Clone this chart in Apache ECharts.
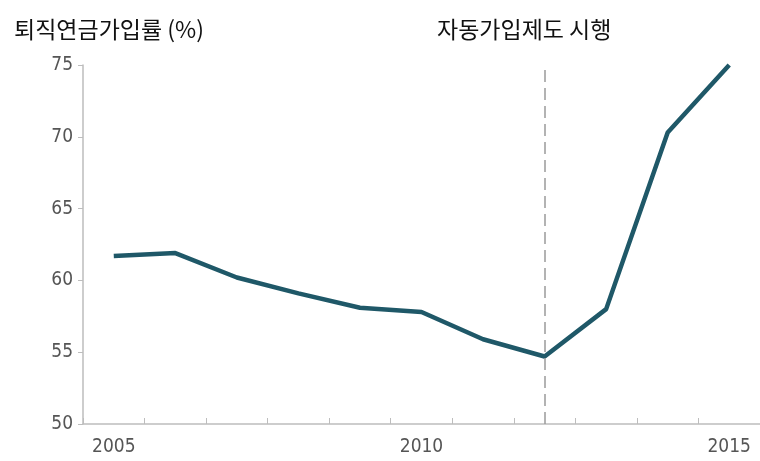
<!DOCTYPE html>
<html>
<head>
<meta charset="utf-8">
<script src="https://cdn.jsdelivr.net/npm/echarts@6/dist/echarts.min.js"></script>
<style>
html, body { margin: 0; padding: 0; background: #fff; }
#main { width: 760px; height: 461px; }
</style>
</head>
<body>
<div id="main"></div>
<script>
var years = ['2005','2006','2007','2008','2009','2010','2011','2012','2013','2014','2015'];//x축
var joinRate = [61.7, 61.9, 60.2, 59.1, 58.1, 57.8, 55.9, 54.7, 58.0, 70.3, 75.0];//퇴직연금가입률
var autoYear = '2012';//자동가입제도 시행
var yTicks = [50, 55, 60, 65, 70, 75];

var numFont = '"Liberation Sans Narrow", "DejaVu Sans Condensed", "Roboto", sans-serif';
var krFont = '"Noto Sans CJK KR", sans-serif';

var myChart = echarts.init(document.getElementById('main'));
var option = {
    backgroundColor: '#fff',
    animation: false,
    title: [
        {
            text: '퇴직연금가입률 (%)',
            left: 9,
            top: 13,
            textStyle: { fontFamily: krFont, fontSize: 23, fontWeight: 'normal', color: '#111' }
        },
        {
            text: '자동가입제도 시행',
            left: 432,
            top: 13,
            textStyle: { fontFamily: krFont, fontSize: 23, fontWeight: 'normal', color: '#111' }
        }
    ],
    grid: {
        left: 83,
        top: 65,
        width: 684,
        height: 359
    },
    xAxis: [
        {
            type: 'category',
            data: years,
            boundaryGap: true,
            axisLine: { lineStyle: { color: '#bdbdbd', width: 1.5 } },
            axisTick: { show: true, interval: 0, length: 6, inside: true, lineStyle: { color: '#bdbdbd' } },
            axisLabel: {
                interval: 4,
                margin: 14,
                color: '#555',
                fontSize: 19,
                fontFamily: numFont
            }
        }
    ],
    yAxis: [
        {
            type: 'value',
            min: yTicks[0],
            max: yTicks[yTicks.length - 1],
            interval: 5,
            splitLine: { show: false },
            axisLine: { show: true, lineStyle: { color: '#bdbdbd', width: 1.5 } },
            axisTick: { show: true, length: 5, lineStyle: { color: '#bdbdbd' } },
            axisLabel: {
                margin: 10,
                color: '#555',
                fontSize: 19,
                fontFamily: numFont
            }
        }
    ],
    series: [
        {
            name: '퇴직연금가입률',
            type: 'line',
            data: joinRate,
            symbol: 'none',
            lineStyle: { color: '#1f5868', width: 4.5 },
            markLine: {
                silent: true,
                symbol: 'none',
                label: { show: false },
                lineStyle: { color: '#9a9a9a', type: [12, 6], width: 1.5 },
                data: [
                    { xAxis: autoYear }
                ]
            }
        }
    ]
};
myChart.setOption(option);
</script>
</body>
</html>
